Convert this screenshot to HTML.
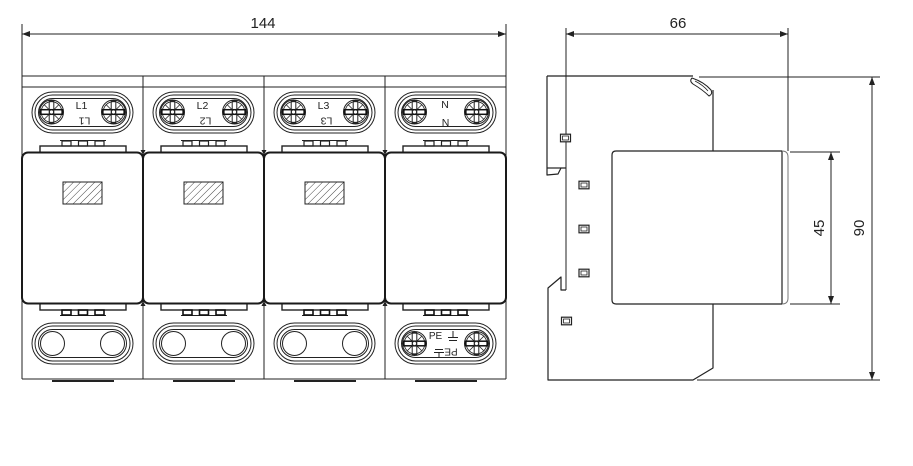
<!DOCTYPE html>
<html><head><meta charset="utf-8"><style>html,body{margin:0;padding:0;background:#fff}svg{display:block}</style></head>
<body>
<svg width="913" height="466" viewBox="0 0 913 466" xmlns="http://www.w3.org/2000/svg" font-family="'Liberation Sans', sans-serif">
<defs>
  <pattern id="hatch" patternUnits="userSpaceOnUse" width="5" height="5" patternTransform="rotate(45)">
    <line x1="0" y1="0" x2="0" y2="5" stroke="#333" stroke-width="0.9"/>
  </pattern>
  <g id="screw">
    <circle r="12" fill="#fff" stroke="#222" stroke-width="1"/>
    <circle r="10.3" fill="none" stroke="#222" stroke-width="0.8"/>
    <line x1="-7.5" y1="-7.5" x2="7.5" y2="7.5" stroke="#222" stroke-width="0.8"/>
    <line x1="7.5" y1="-7.5" x2="-7.5" y2="7.5" stroke="#222" stroke-width="0.8"/>
    <rect x="-11" y="-2.3" width="22" height="4.6" fill="none" stroke="#111" stroke-width="1.5"/>
    <rect x="-2.3" y="-11" width="4.6" height="22" fill="none" stroke="#222" stroke-width="1"/>
    <circle r="2" fill="#fff" stroke="#222" stroke-width="0.8"/>
  </g>
  <g id="oval">
    <rect x="10" y="0" width="101" height="41" rx="20.5" fill="none" stroke="#222" stroke-width="1"/>
    <rect x="13" y="3" width="95" height="35" rx="17.5" fill="none" stroke="#222" stroke-width="1"/>
    <rect x="16.5" y="6.5" width="88" height="28" rx="14" fill="none" stroke="#222" stroke-width="1"/>
  </g>
  <g id="clipTop">
    <rect x="18" y="146" width="86" height="6.5" fill="#fff" stroke="#222" stroke-width="1.4"/>
    <line x1="38" y1="140.5" x2="84" y2="140.5" stroke="#222" stroke-width="1"/>
    <rect x="40" y="141" width="9" height="5" fill="none" stroke="#222" stroke-width="1.2"/>
    <rect x="56.5" y="141" width="9" height="5" fill="none" stroke="#222" stroke-width="1.2"/>
    <rect x="73" y="141" width="9" height="5" fill="none" stroke="#222" stroke-width="1.2"/>
  </g>
  <g id="clipBot">
    <rect x="18" y="303.5" width="86" height="6.5" fill="#fff" stroke="#222" stroke-width="1.4"/>
    <line x1="38" y1="315.5" x2="84" y2="315.5" stroke="#222" stroke-width="1"/>
    <rect x="40" y="310" width="9" height="5" fill="none" stroke="#111" stroke-width="1.6"/>
    <rect x="56.5" y="310" width="9" height="5" fill="none" stroke="#111" stroke-width="1.6"/>
    <rect x="73" y="310" width="9" height="5" fill="none" stroke="#111" stroke-width="1.6"/>
  </g>
  <g id="sq">
    <rect x="-5" y="-3.8" width="10" height="7.6" fill="#fff" stroke="#222" stroke-width="1.2"/>
    <rect x="-3" y="-2" width="6" height="4" fill="none" stroke="#222" stroke-width="0.8"/>
  </g>
</defs>

<!-- ===== FRONT VIEW ===== -->
<g stroke="#222" fill="none" stroke-width="1">
  <line x1="22" y1="76" x2="506" y2="76"/>
  <line x1="22" y1="87" x2="506" y2="87"/>
  <line x1="22" y1="379" x2="506" y2="379"/>
  <line x1="22" y1="76" x2="22" y2="379"/>
  <line x1="506" y1="76" x2="506" y2="379"/>
  <line x1="143" y1="76" x2="143" y2="379"/>
  <line x1="264" y1="76" x2="264" y2="379"/>
  <line x1="385" y1="76" x2="385" y2="379"/>
</g>

<g transform="translate(22,0)">
  <g transform="translate(0,92)"><use href="#oval"/></g>
  <g transform="translate(0,323)"><use href="#oval"/></g>
  <use href="#clipTop"/><use href="#clipBot"/>
  <rect x="0" y="152.5" width="121" height="151" rx="6" fill="#fff" stroke="#1a1a1a" stroke-width="2"/>
  <rect x="41" y="182" width="39" height="22" fill="url(#hatch)" stroke="#222" stroke-width="1"/>
  <circle cx="30.5" cy="343.5" r="12" fill="none" stroke="#222"/>
  <circle cx="90.5" cy="343.5" r="12" fill="none" stroke="#222"/>
  <line x1="30" y1="381" x2="92" y2="381" stroke="#222" stroke-width="2"/>
  <use href="#screw" x="29.5" y="112"/><use href="#screw" x="91.5" y="112"/>
</g>
<g transform="translate(143,0)">
  <g transform="translate(0,92)"><use href="#oval"/></g>
  <g transform="translate(0,323)"><use href="#oval"/></g>
  <use href="#clipTop"/><use href="#clipBot"/>
  <rect x="0" y="152.5" width="121" height="151" rx="6" fill="#fff" stroke="#1a1a1a" stroke-width="2"/>
  <rect x="41" y="182" width="39" height="22" fill="url(#hatch)" stroke="#222" stroke-width="1"/>
  <circle cx="30.5" cy="343.5" r="12" fill="none" stroke="#222"/>
  <circle cx="90.5" cy="343.5" r="12" fill="none" stroke="#222"/>
  <line x1="30" y1="381" x2="92" y2="381" stroke="#222" stroke-width="2"/>
  <use href="#screw" x="29.5" y="112"/><use href="#screw" x="91.5" y="112"/>
</g>
<g transform="translate(264,0)">
  <g transform="translate(0,92)"><use href="#oval"/></g>
  <g transform="translate(0,323)"><use href="#oval"/></g>
  <use href="#clipTop"/><use href="#clipBot"/>
  <rect x="0" y="152.5" width="121" height="151" rx="6" fill="#fff" stroke="#1a1a1a" stroke-width="2"/>
  <rect x="41" y="182" width="39" height="22" fill="url(#hatch)" stroke="#222" stroke-width="1"/>
  <circle cx="30.5" cy="343.5" r="12" fill="none" stroke="#222"/>
  <circle cx="90.5" cy="343.5" r="12" fill="none" stroke="#222"/>
  <line x1="30" y1="381" x2="92" y2="381" stroke="#222" stroke-width="2"/>
  <use href="#screw" x="29.5" y="112"/><use href="#screw" x="91.5" y="112"/>
</g>
<g transform="translate(385,0)">
  <g transform="translate(0,92)"><use href="#oval"/></g>
  <g transform="translate(0,323)"><use href="#oval"/></g>
  <use href="#clipTop"/><use href="#clipBot"/>
  <rect x="0" y="152.5" width="121" height="151" rx="6" fill="#fff" stroke="#1a1a1a" stroke-width="2"/>
  <line x1="30" y1="381" x2="92" y2="381" stroke="#222" stroke-width="2"/>
  <use href="#screw" x="29.5" y="112"/><use href="#screw" x="91.5" y="112"/>
  <use href="#screw" x="29.5" y="343.5"/><use href="#screw" x="91.5" y="343.5"/>
  <text x="50.5" y="339" font-size="10" text-anchor="middle" fill="#222">PE</text>
  <g stroke="#222" stroke-width="1">
    <line x1="68" y1="331" x2="68" y2="337"/>
    <line x1="63" y1="337.5" x2="73" y2="337.5"/>
    <line x1="64" y1="340.5" x2="72" y2="340.5"/>
    <line x1="50" y1="349.5" x2="58" y2="349.5"/>
    <line x1="49" y1="352.5" x2="59" y2="352.5"/>
    <line x1="54" y1="353" x2="54" y2="358"/>
  </g>
  <text x="0" y="0" font-size="10" text-anchor="middle" fill="#222" transform="translate(66,348.5) rotate(180)">PE</text>
</g>

<g font-size="10.5" fill="#222" text-anchor="middle">
  <text x="81.5" y="109">L1</text>
  <text transform="translate(84.5,117.5) rotate(180)">L1</text>
  <text x="202.5" y="109">L2</text>
  <text transform="translate(205.5,117.5) rotate(180)">L2</text>
  <text x="323.5" y="109">L3</text>
  <text transform="translate(326.5,117.5) rotate(180)">L3</text>
  <text x="445" y="108">N</text>
  <text x="445.5" y="126">N</text>
</g>

<g fill="#222">
  <polygon points="140.5,150 145.5,150 143,155"/>
  <polygon points="261.5,150 266.5,150 264,155"/>
  <polygon points="382.5,150 387.5,150 385,155"/>
  <polygon points="140.5,306 145.5,306 143,301"/>
  <polygon points="261.5,306 266.5,306 264,301"/>
  <polygon points="382.5,306 387.5,306 385,301"/>
</g>

<g stroke="#222" stroke-width="1">
  <line x1="22" y1="24" x2="22" y2="76"/>
  <line x1="506" y1="24" x2="506" y2="76"/>
  <line x1="22" y1="34" x2="506" y2="34"/>
</g>
<polygon points="22,34 30,31 30,37" fill="#222"/>
<polygon points="506,34 498,31 498,37" fill="#222"/>
<text x="263" y="28" font-size="15" text-anchor="middle" fill="#222">144</text>

<!-- ===== SIDE VIEW ===== -->
<g stroke="#222" stroke-width="1.2" fill="none" stroke-linejoin="round">
  <line x1="547" y1="76" x2="693" y2="76"/>
  <path d="M547,76 V175 L558,174 L561,168 H566"/>
  <line x1="547" y1="168" x2="561" y2="168"/>
  <line x1="566" y1="28" x2="566" y2="290" stroke-width="1"/>
  <path d="M566,290 H561 V277 L548,288 V380 H693 L713,368 V304 H616 Q612,304 612,300 V155 Q612,151 616,151 H713 V90"/>
  <path d="M692,78 Q704,82 711,90 Q713,94 709,96 Q703,90 693,84 Q689,81 692,78 Z" stroke-width="1"/>
  <path d="M695,81 Q703,85 708,91" stroke-width="0.8"/>
  <line x1="713" y1="151" x2="782" y2="151"/>
  <line x1="713" y1="304" x2="782" y2="304"/>
  <line x1="782" y1="151" x2="782" y2="304"/>
  <path d="M782,151 Q788,151 788,157 V298 Q788,304 782,304" stroke="#777" stroke-width="1"/>
</g>
<use href="#sq" x="565.5" y="138"/>
<use href="#sq" x="584" y="185"/>
<use href="#sq" x="584" y="229"/>
<use href="#sq" x="584" y="273"/>
<use href="#sq" x="566.5" y="321"/>

<g stroke="#222" stroke-width="1">
  <line x1="788" y1="28" x2="788" y2="151"/>
  <line x1="566" y1="34" x2="788" y2="34"/>
</g>
<polygon points="566,34 574,31 574,37" fill="#222"/>
<polygon points="788,34 780,31 780,37" fill="#222"/>
<text x="678" y="28" font-size="15" text-anchor="middle" fill="#222">66</text>

<g stroke="#222" stroke-width="1">
  <line x1="790" y1="152" x2="840" y2="152"/>
  <line x1="790" y1="304" x2="840" y2="304"/>
  <line x1="831" y1="152" x2="831" y2="304"/>
</g>
<polygon points="831,152 828,160 834,160" fill="#222"/>
<polygon points="831,304 828,296 834,296" fill="#222"/>
<text transform="translate(824,228) rotate(-90)" font-size="15" text-anchor="middle" fill="#222">45</text>

<g stroke="#222" stroke-width="1">
  <line x1="699" y1="77" x2="880" y2="77"/>
  <line x1="697" y1="380" x2="880" y2="380"/>
  <line x1="872" y1="77" x2="872" y2="380"/>
</g>
<polygon points="872,77 869,85 875,85" fill="#222"/>
<polygon points="872,380 869,372 875,372" fill="#222"/>
<text transform="translate(864,228) rotate(-90)" font-size="15" text-anchor="middle" fill="#222">90</text>
</svg>
</body></html>
